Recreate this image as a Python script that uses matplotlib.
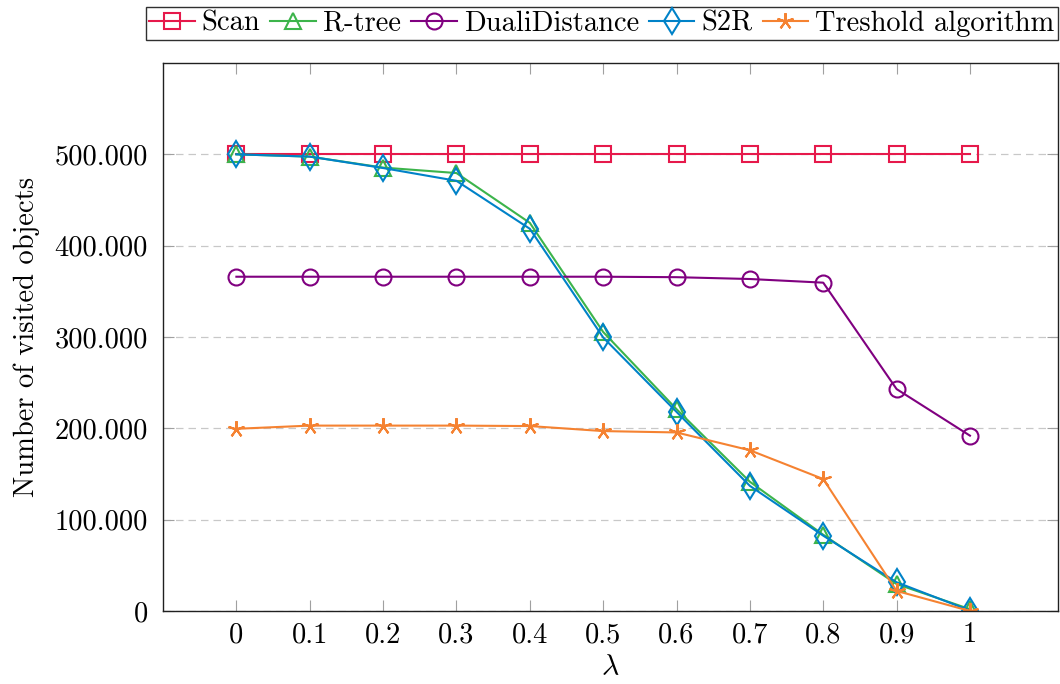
import matplotlib.pyplot as plt
from matplotlib.ticker import FixedLocator

plt.rcParams['font.family'] = ['cmr10', 'DejaVu Serif']
plt.rcParams['mathtext.fontset'] = 'cm'
plt.rcParams['axes.unicode_minus'] = False
plt.rcParams['axes.formatter.use_mathtext'] = True

# lambda values on the x axis
lam = [0, 0.1, 0.2, 0.3, 0.4, 0.5, 0.6, 0.7, 0.8, 0.9, 1]

# visited objects per algorithm
scan = [500000] * 11
rtree = [500000, 497500, 485500, 479500, 425000, 305500, 221000, 141500, 83500, 29500, 2000]
duali = [366000, 366000, 366000, 366000, 366000, 366000, 365500, 363500, 359500, 243000, 192000]
s2r = [500000, 497500, 485000, 471000, 418500, 299500, 218000, 137000, 82500, 31500, 500]
treshold = [199500, 203000, 203000, 203000, 202500, 197000, 195500, 176000, 144500, 22000, 0]

yticks = [0, 100000, 200000, 300000, 400000, 500000]
ytick_labels = ['0', '100.000', '200.000', '300.000', '400.000', '500.000']

fs = 20.5

fig = plt.figure(figsize=(10.6, 6.84), dpi=100)
ax = fig.add_axes([0.1538, 0.1067, 0.8443, 0.8012])

lw = 1.5
ax.plot(lam, scan, color='#e6194b', lw=lw, marker='s', ms=12, mfc='none', mew=lw, label='Scan')
ax.plot(lam, rtree, color='#3cb44b', lw=lw, marker='^', ms=11, mfc='none', mew=lw, label='R-tree')
ax.plot(lam, duali, color='#800080', lw=lw, marker='o', ms=11.5, mfc='none', mew=lw, label='DualiDistance')
ax.plot(lam, s2r, color='#0082c8', lw=lw, marker='d', ms=13, mfc='none', mew=lw, label='S2R')
ax.plot(lam, treshold, color='#f58231', lw=lw, marker=(5, 2, 0), ms=12, mew=lw, label='Treshold algorithm')

ax.set_xlim(-0.1, 1.12)
ax.set_ylim(0, 600000)
ax.set_xticks(lam)
ax.set_xticklabels(['0', '0.1', '0.2', '0.3', '0.4', '0.5', '0.6', '0.7', '0.8', '0.9', '1'])
ax.yaxis.set_major_locator(FixedLocator(yticks))
ax.set_yticklabels(ytick_labels)

ax.grid(axis='y', color='#c8c8c8', linestyle=(0, (6, 4)), linewidth=0.9)
ax.set_axisbelow(True)

ax.tick_params(direction='in', length=8, width=0.8, color='#a0a0a0',
               top=True, right=True, labelsize=fs, labelcolor='black')
ax.tick_params(axis='x', pad=8)
ax.tick_params(axis='y', pad=11)
for s in ax.spines.values():
    s.set_linewidth(1.0)
    s.set_color('#202020')

ax.set_xlabel(r'$\lambda$', fontsize=fs + 1, labelpad=4)
ax.set_ylabel('Number of visited objects', fontsize=fs, labelpad=10)

leg = ax.legend(loc='lower right', bbox_to_anchor=(1.0, 1.042), ncol=5, fontsize=fs,
                frameon=True, fancybox=False, edgecolor='#303030', framealpha=1,
                handlelength=1.6, handletextpad=0.25, columnspacing=0.35,
                borderpad=0.12, markerscale=1.0, borderaxespad=0)
leg.get_frame().set_linewidth(1.0)

fig.savefig('out.png', dpi=100)
